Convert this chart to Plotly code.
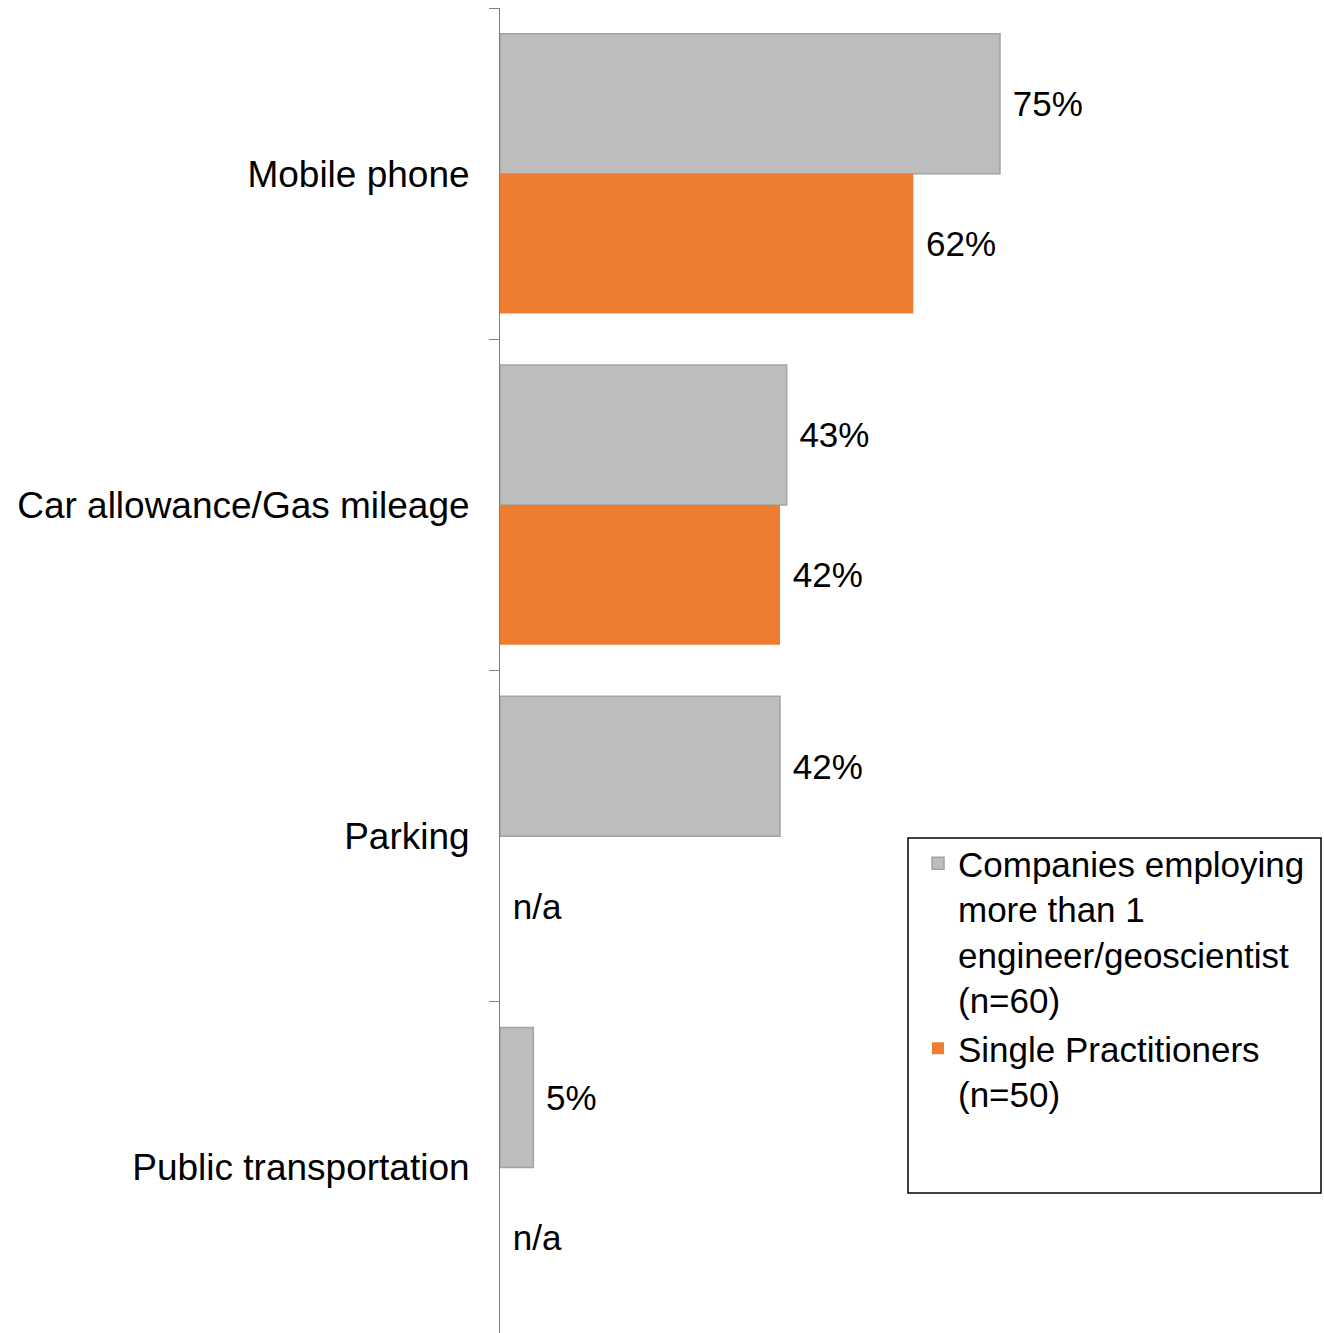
import plotly.graph_objects as go

categories = ["Mobile phone", "Car allowance/Gas mileage", "Parking", "Public transportation"]
companies_vals = [75, 43, 42, 5]
single_vals = [62, 42, 0, 0]
companies_text = ["75%", "43%", "42%", "5%"]
single_text = ["62%", "42%", "n/a", "n/a"]
series_names = [
    "Companies employing<br>more than 1<br>engineer/geoscientist<br>(n=60)",
    "Single Practitioners<br>(n=50)",
]

FONT = "Liberation Sans, Arial, sans-serif"
GRAY = "#BDBDBD"
ORANGE = "#ED7D31"

fig = go.Figure()
fig.add_trace(go.Bar(
    y=categories, x=companies_vals, orientation="h", name=series_names[0],
    marker=dict(color=GRAY, line=dict(color="#A3A3A3", width=1.5)),
    text=["\u00a0" + t for t in companies_text], textposition="outside",
    textfont=dict(size=35, color="black", family=FONT), cliponaxis=False,
))
fig.add_trace(go.Bar(
    y=categories, x=single_vals, orientation="h", name=series_names[1],
    marker=dict(color=ORANGE, line=dict(width=0)),
    text=["\u00a0" + t for t in single_text], textposition="outside",
    textfont=dict(size=35, color="black", family=FONT), cliponaxis=False,
))

fig.update_layout(
    width=1324, height=1333,
    margin=dict(l=500, r=0, t=8, b=0),
    paper_bgcolor="white", plot_bgcolor="white",
    barmode="group", bargap=0.155, bargroupgap=0,
    font=dict(family=FONT, size=35, color="black"),
    showlegend=True,
    legend=dict(
        xref="paper", yref="paper",
        x=(918 - 500) / 824, y=1 - (834 - 8) / 1325, xanchor="left", yanchor="top",
        font=dict(size=35, family=FONT, color="black"),
        bgcolor="rgba(0,0,0,0)", borderwidth=0,
        valign="top", tracegroupgap=0, itemwidth=30,
    ),
)
fig.update_xaxes(range=[0, 123.6], visible=False, showgrid=False, zeroline=False)
fig.update_yaxes(
    autorange="reversed", showline=True, linecolor="#7F7F7F", linewidth=1,
    ticks="outside", ticklen=10, tickcolor="#7F7F7F", tickson="boundaries",
    showgrid=False, zeroline=False, ticklabelstandoff=22,
    tickfont=dict(size=37, family=FONT, color="black"),
)
fig.add_shape(
    type="rect", xref="paper", yref="paper",
    x0=(908 - 500) / 824, x1=(1321 - 500) / 824,
    y0=1 - (1193 - 8) / 1325, y1=1 - (838 - 8) / 1325,
    line=dict(color="black", width=1.5), fillcolor="rgba(0,0,0,0)",
)

fig.write_html(
    "out.html",
    config={"displayModeBar": False},
    post_script="document.body.style.margin='0';document.body.style.overflow='hidden';",
)
